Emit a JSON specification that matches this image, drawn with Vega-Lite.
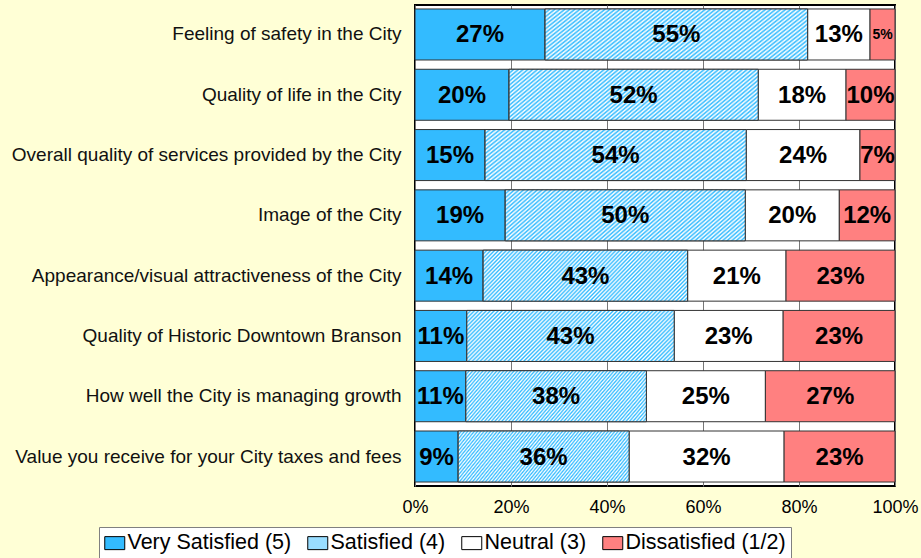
{
  "$schema": "https://vega.github.io/schema/vega-lite/v6.json",
  "width": 480,
  "height": 481,
  "autosize": {"type": "none"},
  "padding": {"left": 415, "top": 5, "right": 26, "bottom": 72},
  "background": "#FFFFD6",
  "config": {
    "font": "Liberation Sans",
    "view": {"stroke": "#000000", "strokeWidth": 2, "fill": "#FFFFFF"}
  },
  "data": {
    "values": [
      {"item": "Feeling of safety in the City", "cat": "Very Satisfied (5)", "pct": 27.1},
      {"item": "Feeling of safety in the City", "cat": "Satisfied (4)", "pct": 54.7},
      {"item": "Feeling of safety in the City", "cat": "Neutral (3)", "pct": 13.0},
      {"item": "Feeling of safety in the City", "cat": "Dissatisfied (1/2)", "pct": 5.2},
      {"item": "Quality of life in the City", "cat": "Very Satisfied (5)", "pct": 19.6},
      {"item": "Quality of life in the City", "cat": "Satisfied (4)", "pct": 51.9},
      {"item": "Quality of life in the City", "cat": "Neutral (3)", "pct": 18.3},
      {"item": "Quality of life in the City", "cat": "Dissatisfied (1/2)", "pct": 10.2},
      {"item": "Overall quality of services provided by the City", "cat": "Very Satisfied (5)", "pct": 14.6},
      {"item": "Overall quality of services provided by the City", "cat": "Satisfied (4)", "pct": 54.4},
      {"item": "Overall quality of services provided by the City", "cat": "Neutral (3)", "pct": 23.7},
      {"item": "Overall quality of services provided by the City", "cat": "Dissatisfied (1/2)", "pct": 7.3},
      {"item": "Image of the City", "cat": "Very Satisfied (5)", "pct": 18.8},
      {"item": "Image of the City", "cat": "Satisfied (4)", "pct": 50.0},
      {"item": "Image of the City", "cat": "Neutral (3)", "pct": 19.6},
      {"item": "Image of the City", "cat": "Dissatisfied (1/2)", "pct": 11.6},
      {"item": "Appearance/visual attractiveness of the City", "cat": "Very Satisfied (5)", "pct": 14.2},
      {"item": "Appearance/visual attractiveness of the City", "cat": "Satisfied (4)", "pct": 42.6},
      {"item": "Appearance/visual attractiveness of the City", "cat": "Neutral (3)", "pct": 20.5},
      {"item": "Appearance/visual attractiveness of the City", "cat": "Dissatisfied (1/2)", "pct": 22.7},
      {"item": "Quality of Historic Downtown Branson", "cat": "Very Satisfied (5)", "pct": 10.8},
      {"item": "Quality of Historic Downtown Branson", "cat": "Satisfied (4)", "pct": 43.2},
      {"item": "Quality of Historic Downtown Branson", "cat": "Neutral (3)", "pct": 22.7},
      {"item": "Quality of Historic Downtown Branson", "cat": "Dissatisfied (1/2)", "pct": 23.3},
      {"item": "How well the City is managing growth", "cat": "Very Satisfied (5)", "pct": 10.6},
      {"item": "How well the City is managing growth", "cat": "Satisfied (4)", "pct": 37.6},
      {"item": "How well the City is managing growth", "cat": "Neutral (3)", "pct": 24.8},
      {"item": "How well the City is managing growth", "cat": "Dissatisfied (1/2)", "pct": 27.0},
      {"item": "Value you receive for your City taxes and fees", "cat": "Very Satisfied (5)", "pct": 9.0},
      {"item": "Value you receive for your City taxes and fees", "cat": "Satisfied (4)", "pct": 35.6},
      {"item": "Value you receive for your City taxes and fees", "cat": "Neutral (3)", "pct": 32.3},
      {"item": "Value you receive for your City taxes and fees", "cat": "Dissatisfied (1/2)", "pct": 23.1}
    ]
  },
  "transform": [
    {"stack": "pct", "groupby": ["item"], "offset": "normalize", "sort": [{"field": "cat", "order": "descending"}], "as": ["x0", "x1"]},
    {"calculate": "(datum.x0 + datum.x1) / 2", "as": "mid"},
    {"calculate": "format(datum.pct, '.0f') + '%'", "as": "label"}
  ],
  "encoding": {
    "y": {
      "field": "item",
      "type": "nominal",
      "sort": [
        "Feeling of safety in the City",
        "Quality of life in the City",
        "Overall quality of services provided by the City",
        "Image of the City",
        "Appearance/visual attractiveness of the City",
        "Quality of Historic Downtown Branson",
        "How well the City is managing growth",
        "Value you receive for your City taxes and fees"
      ],
      "scale": {"paddingInner": 0.154, "paddingOuter": 0.066},
      "axis": {
        "title": null,
        "ticks": false,
        "domain": false,
        "labelFontSize": 19,
        "labelColor": "#111111",
        "labelPadding": 14,
        "labelLimit": 0
      }
    }
  },
  "layer": [
    {
      "mark": {"type": "bar", "stroke": "#333333", "strokeWidth": 1},
      "encoding": {
        "x": {
          "field": "x0",
          "type": "quantitative",
          "scale": {"domain": [0, 1], "nice": false},
          "axis": {
            "title": null,
            "format": ".0%",
            "values": [0, 0.2, 0.4, 0.6, 0.8, 1],
            "labelFontSize": 18,
            "labelColor": "#000000",
            "labelPadding": 12,
            "labelFlush": false,
            "ticks": false,
            "domain": false,
            "grid": true,
            "gridColor": "#777777",
            "gridWidth": 1
          }
        },
        "x2": {"field": "x1"},
        "color": {
          "field": "cat",
          "type": "nominal",
          "scale": {
            "domain": ["Very Satisfied (5)", "Satisfied (4)", "Neutral (3)", "Dissatisfied (1/2)"],
            "range": ["#33BBFF", "#99DDFF", "#FFFFFF", "#FF8080"]
          },
          "legend": {
            "title": null,
            "orient": "none",
            "legendX": -316,
            "legendY": 522,
            "direction": "horizontal",
            "fillColor": "#FFFFFF",
            "strokeColor": "#808080",
            "padding": 5,
            "symbolType": "M-1,-0.65H1V0.65H-1Z",
            "symbolSize": 400,
            "symbolStrokeColor": "#000000",
            "symbolStrokeWidth": 1,
            "symbolOpacity": 1,
            "labelFontSize": 21.5,
            "labelColor": "#000000",
            "labelOffset": 2,
            "columnPadding": 13,
            "labelLimit": 0
          }
        }
      }
    },
    {
      "transform": [{"filter": "datum.cat == 'Satisfied (4)'"}],
      "mark": {
        "type": "bar",
        "stroke": "#333333",
        "strokeWidth": 1,
        "fill": {
          "gradient": "linear",
          "x1": 0, "y1": 0, "x2": 1.174, "y2": 0.285,
          "stops": [
            {"offset": 0, "color": "#33BBFF"}, {"offset": 0.0077, "color": "#FFFFFF"}, {"offset": 0.0154, "color": "#33BBFF"}, {"offset": 0.0231, "color": "#FFFFFF"}, {"offset": 0.0308, "color": "#33BBFF"}, {"offset": 0.0385, "color": "#FFFFFF"}, {"offset": 0.0462, "color": "#33BBFF"}, {"offset": 0.0538, "color": "#FFFFFF"}, {"offset": 0.0615, "color": "#33BBFF"}, {"offset": 0.0692, "color": "#FFFFFF"},
            {"offset": 0.0769, "color": "#33BBFF"}, {"offset": 0.0846, "color": "#FFFFFF"}, {"offset": 0.0923, "color": "#33BBFF"}, {"offset": 0.1, "color": "#FFFFFF"}, {"offset": 0.1077, "color": "#33BBFF"}, {"offset": 0.1154, "color": "#FFFFFF"}, {"offset": 0.1231, "color": "#33BBFF"}, {"offset": 0.1308, "color": "#FFFFFF"}, {"offset": 0.1385, "color": "#33BBFF"}, {"offset": 0.1462, "color": "#FFFFFF"},
            {"offset": 0.1538, "color": "#33BBFF"}, {"offset": 0.1615, "color": "#FFFFFF"}, {"offset": 0.1692, "color": "#33BBFF"}, {"offset": 0.1769, "color": "#FFFFFF"}, {"offset": 0.1846, "color": "#33BBFF"}, {"offset": 0.1923, "color": "#FFFFFF"}, {"offset": 0.2, "color": "#33BBFF"}, {"offset": 0.2077, "color": "#FFFFFF"}, {"offset": 0.2154, "color": "#33BBFF"}, {"offset": 0.2231, "color": "#FFFFFF"},
            {"offset": 0.2308, "color": "#33BBFF"}, {"offset": 0.2385, "color": "#FFFFFF"}, {"offset": 0.2462, "color": "#33BBFF"}, {"offset": 0.2538, "color": "#FFFFFF"}, {"offset": 0.2615, "color": "#33BBFF"}, {"offset": 0.2692, "color": "#FFFFFF"}, {"offset": 0.2769, "color": "#33BBFF"}, {"offset": 0.2846, "color": "#FFFFFF"}, {"offset": 0.2923, "color": "#33BBFF"}, {"offset": 0.3, "color": "#FFFFFF"},
            {"offset": 0.3077, "color": "#33BBFF"}, {"offset": 0.3154, "color": "#FFFFFF"}, {"offset": 0.3231, "color": "#33BBFF"}, {"offset": 0.3308, "color": "#FFFFFF"}, {"offset": 0.3385, "color": "#33BBFF"}, {"offset": 0.3462, "color": "#FFFFFF"}, {"offset": 0.3538, "color": "#33BBFF"}, {"offset": 0.3615, "color": "#FFFFFF"}, {"offset": 0.3692, "color": "#33BBFF"}, {"offset": 0.3769, "color": "#FFFFFF"},
            {"offset": 0.3846, "color": "#33BBFF"}, {"offset": 0.3923, "color": "#FFFFFF"}, {"offset": 0.4, "color": "#33BBFF"}, {"offset": 0.4077, "color": "#FFFFFF"}, {"offset": 0.4154, "color": "#33BBFF"}, {"offset": 0.4231, "color": "#FFFFFF"}, {"offset": 0.4308, "color": "#33BBFF"}, {"offset": 0.4385, "color": "#FFFFFF"}, {"offset": 0.4462, "color": "#33BBFF"}, {"offset": 0.4538, "color": "#FFFFFF"},
            {"offset": 0.4615, "color": "#33BBFF"}, {"offset": 0.4692, "color": "#FFFFFF"}, {"offset": 0.4769, "color": "#33BBFF"}, {"offset": 0.4846, "color": "#FFFFFF"}, {"offset": 0.4923, "color": "#33BBFF"}, {"offset": 0.5, "color": "#FFFFFF"}, {"offset": 0.5077, "color": "#33BBFF"}, {"offset": 0.5154, "color": "#FFFFFF"}, {"offset": 0.5231, "color": "#33BBFF"}, {"offset": 0.5308, "color": "#FFFFFF"},
            {"offset": 0.5385, "color": "#33BBFF"}, {"offset": 0.5462, "color": "#FFFFFF"}, {"offset": 0.5538, "color": "#33BBFF"}, {"offset": 0.5615, "color": "#FFFFFF"}, {"offset": 0.5692, "color": "#33BBFF"}, {"offset": 0.5769, "color": "#FFFFFF"}, {"offset": 0.5846, "color": "#33BBFF"}, {"offset": 0.5923, "color": "#FFFFFF"}, {"offset": 0.6, "color": "#33BBFF"}, {"offset": 0.6077, "color": "#FFFFFF"},
            {"offset": 0.6154, "color": "#33BBFF"}, {"offset": 0.6231, "color": "#FFFFFF"}, {"offset": 0.6308, "color": "#33BBFF"}, {"offset": 0.6385, "color": "#FFFFFF"}, {"offset": 0.6462, "color": "#33BBFF"}, {"offset": 0.6538, "color": "#FFFFFF"}, {"offset": 0.6615, "color": "#33BBFF"}, {"offset": 0.6692, "color": "#FFFFFF"}, {"offset": 0.6769, "color": "#33BBFF"}, {"offset": 0.6846, "color": "#FFFFFF"},
            {"offset": 0.6923, "color": "#33BBFF"}, {"offset": 0.7, "color": "#FFFFFF"}, {"offset": 0.7077, "color": "#33BBFF"}, {"offset": 0.7154, "color": "#FFFFFF"}, {"offset": 0.7231, "color": "#33BBFF"}, {"offset": 0.7308, "color": "#FFFFFF"}, {"offset": 0.7385, "color": "#33BBFF"}, {"offset": 0.7462, "color": "#FFFFFF"}, {"offset": 0.7538, "color": "#33BBFF"}, {"offset": 0.7615, "color": "#FFFFFF"},
            {"offset": 0.7692, "color": "#33BBFF"}, {"offset": 0.7769, "color": "#FFFFFF"}, {"offset": 0.7846, "color": "#33BBFF"}, {"offset": 0.7923, "color": "#FFFFFF"}, {"offset": 0.8, "color": "#33BBFF"}, {"offset": 0.8077, "color": "#FFFFFF"}, {"offset": 0.8154, "color": "#33BBFF"}, {"offset": 0.8231, "color": "#FFFFFF"}, {"offset": 0.8308, "color": "#33BBFF"}, {"offset": 0.8385, "color": "#FFFFFF"},
            {"offset": 0.8462, "color": "#33BBFF"}, {"offset": 0.8538, "color": "#FFFFFF"}, {"offset": 0.8615, "color": "#33BBFF"}, {"offset": 0.8692, "color": "#FFFFFF"}, {"offset": 0.8769, "color": "#33BBFF"}, {"offset": 0.8846, "color": "#FFFFFF"}, {"offset": 0.8923, "color": "#33BBFF"}, {"offset": 0.9, "color": "#FFFFFF"}, {"offset": 0.9077, "color": "#33BBFF"}, {"offset": 0.9154, "color": "#FFFFFF"},
            {"offset": 0.9231, "color": "#33BBFF"}, {"offset": 0.9308, "color": "#FFFFFF"}, {"offset": 0.9385, "color": "#33BBFF"}, {"offset": 0.9462, "color": "#FFFFFF"}, {"offset": 0.9538, "color": "#33BBFF"}, {"offset": 0.9615, "color": "#FFFFFF"}, {"offset": 0.9692, "color": "#33BBFF"}, {"offset": 0.9769, "color": "#FFFFFF"}, {"offset": 0.9846, "color": "#33BBFF"}, {"offset": 0.9923, "color": "#FFFFFF"},
            {"offset": 1, "color": "#33BBFF"}
          ]
        }
      },
      "encoding": {
        "x": {"field": "x0", "type": "quantitative"},
        "x2": {"field": "x1"}
      }
    },
    {
      "mark": {"type": "text", "fontWeight": "bold", "color": "#000000", "align": "center", "baseline": "middle", "dy": 1},
      "encoding": {
        "x": {"field": "mid", "type": "quantitative"},
        "text": {"field": "label"},
        "size": {"condition": {"test": "datum.pct < 6", "value": 14}, "value": 24}
      }
    }
  ]
}
